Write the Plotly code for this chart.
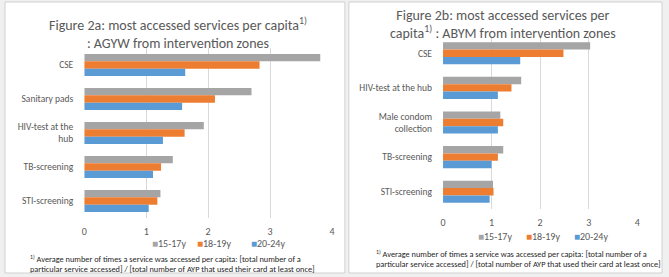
import plotly.graph_objects as go

W, H = 669, 277

# ---- data ----
categories_a = ["CSE", "Sanitary pads", "HIV-test at the<br>hub", "TB-screening", "STI-screening"]
a_15_17 = [3.81, 2.70, 1.93, 1.43, 1.23]
a_18_19 = [2.83, 2.11, 1.62, 1.24, 1.18]
a_20_24 = [1.63, 1.58, 1.27, 1.11, 1.04]

categories_b = ["CSE", "HIV-test at the hub", "Male condom<br>collection", "TB-screening", "STI-screening"]
b_15_17 = [3.03, 1.61, 1.18, 1.24, 1.03]
b_18_19 = [2.48, 1.41, 1.24, 1.13, 1.04]
b_20_24 = [1.59, 1.13, 1.13, 1.00, 0.96]

series_names = ["15-17y", "18-19y", "20-24y"]
colors = ["#A5A5A5", "#ED7D31", "#5B9BD5"]
x_ticks = [0, 1, 2, 3, 4]

title_a = "Figure 2a: most accessed services per capita<sup>1)</sup><br>: AGYW from intervention zones"
title_b = "Figure 2b: most accessed services per<br>capita<sup>1)</sup> : ABYM from intervention zones"
footnote_1 = "<sup>1)</sup> Average number of times a service was accessed per capita: [total number of a"
footnote_2 = "particular service accessed] / [total number of AYP that used their card at least once]"

FONT = "Carlito, Lato, 'Liberation Sans', sans-serif"
TXT = "#595959"


def px(x):
    return x / W


def py(y):
    return 1 - y / H


fig = go.Figure()

for vals, name, col in zip([a_15_17, a_18_19, a_20_24], series_names, colors):
    fig.add_trace(go.Bar(y=categories_a, x=vals, name=name, orientation="h",
                         marker=dict(color=col, line=dict(width=0)),
                         xaxis="x", yaxis="y", showlegend=False))
for vals, name, col in zip([b_15_17, b_18_19, b_20_24], series_names, colors):
    fig.add_trace(go.Bar(y=categories_b, x=vals, name=name, orientation="h",
                         marker=dict(color=col, line=dict(width=0)),
                         xaxis="x2", yaxis="y2", showlegend=False))

axis_common = dict(range=[0, 4], tickvals=x_ticks, showgrid=True, gridcolor="#D9D9D9",
                   gridwidth=1, zeroline=False, showline=False, ticks="",
                   tickfont=dict(family=FONT, size=10, color=TXT), ticklabelstandoff=6,
                   fixedrange=True)
yaxis_common = dict(autorange="reversed", showgrid=False, zeroline=False, showline=False,
                    ticks="", tickfont=dict(family=FONT, size=9.5, color=TXT),
                    ticklabelstandoff=10, fixedrange=True)

fig.update_layout(
    width=W, height=H,
    margin=dict(l=0, r=0, t=0, b=0),
    paper_bgcolor="#F0F0F0", plot_bgcolor="rgba(0,0,0,0)",
    barmode="group", bargap=0.36, bargroupgap=0,
    font=dict(family=FONT, color=TXT),
    showlegend=False,
    xaxis=dict(domain=[px(82), px(332)], anchor="y", **axis_common),
    yaxis=dict(domain=[py(218), py(48)], anchor="x", **yaxis_common),
    xaxis2=dict(domain=[px(444), px(640)], anchor="y2", **axis_common),
    yaxis2=dict(domain=[py(209), py(36)], anchor="x2", **yaxis_common),
    shapes=[
        dict(type="rect", xref="paper", yref="paper", x0=px(2), x1=px(345), y0=py(273), y1=py(2),
             fillcolor="white", line=dict(color="#D0D0D0", width=1), layer="below"),
        dict(type="rect", xref="paper", yref="paper", x0=px(349), x1=px(665), y0=py(273), y1=py(2),
             fillcolor="white", line=dict(color="#D0D0D0", width=1), layer="below"),
    ],
)

ann = []
ann.append(dict(text=title_a, x=px(177), y=py(34), xref="paper", yref="paper",
                xanchor="center", yanchor="middle", showarrow=False,
                font=dict(family=FONT, size=14, color=TXT)))
ann.append(dict(text=title_b, x=px(505), y=py(25), xref="paper", yref="paper",
                xanchor="center", yanchor="middle", showarrow=False,
                font=dict(family=FONT, size=14, color=TXT)))
for fx, fy in [(25, 258), (374, 253)]:
    ann.append(dict(text=footnote_1, x=px(fx), y=py(fy + 7.5), xref="paper", yref="paper",
                    xanchor="left", yanchor="bottom", align="left", showarrow=False,
                    font=dict(family=FONT, size=8.3, color="#262626")))
    ann.append(dict(text=footnote_2, x=px(fx), y=py(fy + 10.5), xref="paper", yref="paper",
                    xanchor="left", yanchor="middle", align="left", showarrow=False,
                    font=dict(family=FONT, size=8.3, color="#262626")))

# legends (one per panel)
legend_a_x = [148, 194, 248]
legend_b_x = [477, 526, 574]
for lx_list, ly in [(legend_a_x, 243), (legend_b_x, 237)]:
    for lx, name, col in zip(lx_list, series_names, colors):
        ann.append(dict(text=f"<span style='color:{col}'>■</span>{name}", x=px(lx), y=py(ly),
                        xref="paper", yref="paper", xanchor="left", yanchor="middle",
                        showarrow=False, font=dict(family=FONT, size=10, color=TXT)))

fig.update_layout(annotations=ann)

fig.write_html("out.html", config={"displayModeBar": False},
               post_script="document.body.style.margin='0';")
